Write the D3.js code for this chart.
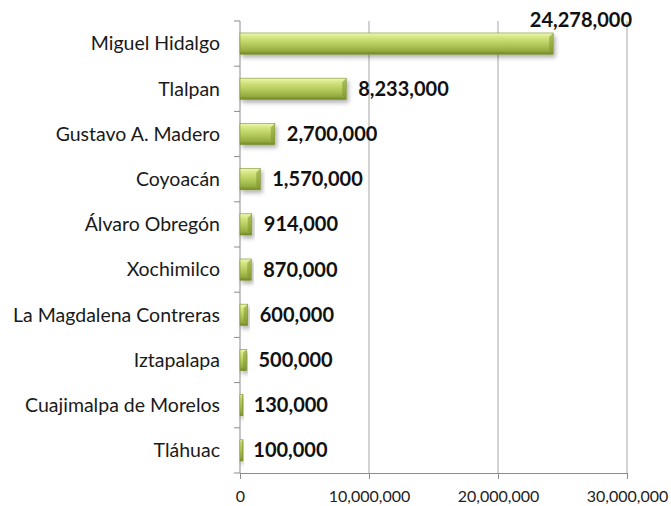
<!DOCTYPE html>
<html>
<head>
<meta charset="utf-8">
<script src="https://cdn.jsdelivr.net/npm/d3@7"></script>
<style>
  body { margin: 0; background: #fff; }
  svg { display: block; }
</style>
</head>
<body>
<div id="chart"></div>
<script>
// Daten
const delegaciones = ["Miguel Hidalgo", "Tlalpan", "Gustavo A. Madero", "Coyoacán", "Álvaro Obregón",
  "Xochimilco", "La Magdalena Contreras", "Iztapalapa", "Cuajimalpa de Morelos", "Tláhuac"];
const werte = [24278000, 8233000, 2700000, 1570000, 914000, 870000, 600000, 500000, 130000, 100000];
const xTicks = [0, 10000000, 20000000, 30000000];

const width = 671, height = 506;
const margin = { top: 21, right: 44, bottom: 33, left: 240 };

const data = delegaciones.map((d, i) => ({ name: d, value: werte[i] }));

const svg = d3.select("#chart")
  .append("svg")
  .attr("width", width)
  .attr("height", height);

const defs = svg.append("defs");
const grad = defs.append("linearGradient")
  .attr("id", "barGrad")
  .attr("x1", 0).attr("y1", 0).attr("x2", 0).attr("y2", 1);
grad.append("stop").attr("offset", "0%").attr("stop-color", "#eef7b4");
grad.append("stop").attr("offset", "22%").attr("stop-color", "#d2e47e");
grad.append("stop").attr("offset", "55%").attr("stop-color", "#b3c95a");
grad.append("stop").attr("offset", "85%").attr("stop-color", "#94ab40");
grad.append("stop").attr("offset", "100%").attr("stop-color", "#6f8528");

const shadow = defs.append("filter").attr("id", "shadow")
  .attr("x", "-10%").attr("y", "-30%").attr("width", "130%").attr("height", "180%");
shadow.append("feDropShadow")
  .attr("dx", 2).attr("dy", 3).attr("stdDeviation", 2)
  .attr("flood-color", "#000").attr("flood-opacity", 0.3);

// Skalen
const xScale = d3.scaleLinear()
  .domain([0, 30000000])
  .range([margin.left, width - margin.right]);

const yScale = d3.scaleBand()
  .domain(delegaciones)
  .range([margin.top, height - margin.bottom])
  .paddingInner(0.53)
  .paddingOuter(0.265);

const plotTop = margin.top;
const plotBottom = height - margin.bottom;
const plotRight = width - margin.right;

// Gitterlinien
svg.append("g")
  .selectAll("line")
  .data(xTicks.slice(1))
  .join("line")
  .attr("x1", d => xScale(d)).attr("x2", d => xScale(d))
  .attr("y1", plotTop).attr("y2", plotBottom)
  .attr("stroke", "#a6a6a6")
  .attr("stroke-width", 1);

// X-Achse
const xAxis = svg.append("g")
  .attr("transform", `translate(0, ${plotBottom})`)
  .call(d3.axisBottom(xScale).tickValues(xTicks).tickSize(6).tickSizeOuter(0).tickFormat(d3.format(",")));
xAxis.select(".domain").attr("stroke", "#8c8c8c");
xAxis.selectAll(".tick line").attr("stroke", "#8c8c8c");
xAxis.selectAll(".tick text")
  .attr("y", 18)
  .attr("dy", "0.71em")
  .style("font-family", "Lato, 'Open Sans', sans-serif")
  .style("font-size", "16px")
  .attr("fill", "#222");

// Y-Achse mit Ticks zwischen den Kategorien
const step = yScale.step();
const yBounds = d3.range(delegaciones.length + 1).map(i => plotTop + i * step);
svg.append("line")
  .attr("x1", margin.left).attr("x2", margin.left)
  .attr("y1", plotTop).attr("y2", plotBottom)
  .attr("stroke", "#8c8c8c");
svg.append("g")
  .selectAll("line")
  .data(yBounds)
  .join("line")
  .attr("x1", margin.left - 6).attr("x2", margin.left)
  .attr("y1", d => d).attr("y2", d => d)
  .attr("stroke", "#8c8c8c");

svg.append("g")
  .selectAll("text")
  .data(delegaciones)
  .join("text")
  .attr("x", margin.left - 20)
  .attr("y", d => yScale(d) + yScale.bandwidth() / 2)
  .attr("dy", "0.35em")
  .attr("text-anchor", "end")
  .style("font-family", "Lato, 'Open Sans', sans-serif")
  .style("font-size", "19.5px")
  .attr("fill", "#1a1a1a")
  .text(d => d);

// Balken
const bars = svg.append("g")
  .selectAll("g")
  .data(data)
  .join("g")
  .attr("transform", d => `translate(0, ${yScale(d.name)})`);

const bh = yScale.bandwidth();
bars.append("rect")
  .attr("x", margin.left)
  .attr("y", 0)
  .attr("width", d => Math.max(3, xScale(d.value) - margin.left))
  .attr("height", bh)
  .attr("fill", "url(#barGrad)")
  .attr("stroke", "#7d9330")
  .attr("stroke-width", 0.6)
  .attr("filter", "url(#shadow)");

// Abgeschrägte rechte Kante (Bevel)
bars.append("path")
  .attr("d", d => {
    const x1 = margin.left + Math.max(3, xScale(d.value) - margin.left);
    const b = Math.min(4, (x1 - margin.left) / 2);
    return `M${x1},0 L${x1 - b},${b} L${x1 - b},${bh - b} L${x1},${bh} Z`;
  })
  .attr("fill", "#7f9530")
  .attr("opacity", 0.55);

// Wertbeschriftungen - passt der Text nicht mehr rechts daneben, kommt er über den Balken
const fmt = d3.format(",");
const tooLong = d => xScale(d.value) + 12 + 100 > plotRight;
bars.append("text")
  .attr("x", d => tooLong(d) ? plotRight + 5 : xScale(d.value) + 12)
  .attr("y", d => tooLong(d) ? -13 : bh / 2)
  .attr("dy", "0.35em")
  .attr("text-anchor", d => tooLong(d) ? "end" : "start")
  .style("font-family", "Lato, 'Open Sans', sans-serif")
  .style("font-size", "20px")
  .style("font-weight", "bold")
  .attr("fill", "#111")
  .text(d => fmt(d.value));
</script>
</body>
</html>
